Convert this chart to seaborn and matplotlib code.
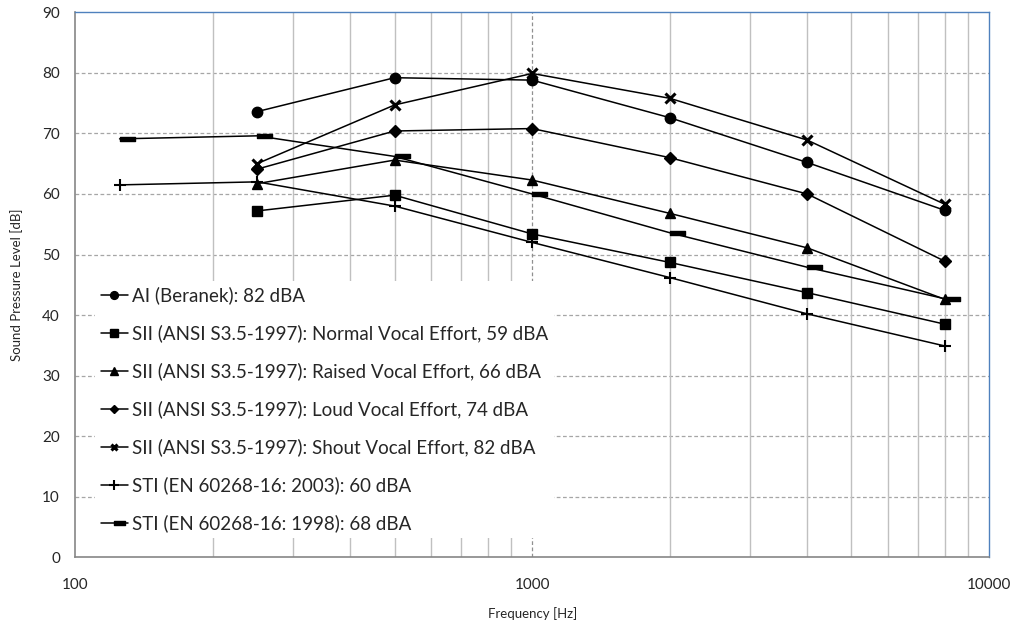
import numpy as np
import pandas as pd
import matplotlib
matplotlib.use('Agg')
import matplotlib.pyplot as plt
import seaborn as sns
from matplotlib.path import Path
from matplotlib.ticker import FixedLocator, NullFormatter

# frequencies [Hz]
freq_oct = [250, 500, 1000, 2000, 4000, 8000]
freq_sti = [125, 250, 500, 1000, 2000, 4000, 8000]

# sound pressure levels [dB]
ai_beranek = [73.6, 79.2, 78.8, 72.6, 65.2, 57.3]
sii_normal = [57.2, 59.8, 53.4, 48.7, 43.7, 38.5]
sii_raised = [61.7, 65.6, 62.3, 56.8, 51.1, 42.6]
sii_loud = [64.1, 70.4, 70.8, 66.0, 60.0, 48.9]
sii_shout = [65.0, 74.7, 79.9, 75.8, 68.9, 58.3]
sti_2003 = [61.5, 62.0, 58.0, 52.0, 46.2, 40.2, 34.9]
sti_1998 = [69.1, 69.6, 66.2, 60.0, 53.6, 47.9, 42.7]

labels = ['AI (Beranek): 82 dBA',
          'SII (ANSI S3.5-1997): Normal Vocal Effort, 59 dBA',
          'SII (ANSI S3.5-1997): Raised Vocal Effort, 66 dBA',
          'SII (ANSI S3.5-1997): Loud Vocal Effort, 74 dBA',
          'SII (ANSI S3.5-1997): Shout Vocal Effort, 82 dBA',
          'STI (EN 60268-16: 2003): 60 dBA',
          'STI (EN 60268-16: 1998): 68 dBA']

sns.set_style('white')
plt.rcParams['font.family'] = ['Lato', 'DejaVu Sans']

# excel style dash marker, drawn to the right of the point
dash = Path([(0, -0.14), (1, -0.14), (1, 0.14), (0, 0.14), (0, -0.14)],
            [Path.MOVETO, Path.LINETO, Path.LINETO, Path.LINETO, Path.CLOSEPOLY])

fig = plt.figure(figsize=(10.17, 6.24), dpi=100)
ax = fig.add_axes([75.3 / 1017, (624 - 557.3) / 624, 913.7 / 1017, 545 / 624])

series = [
    (freq_oct, ai_beranek, 'o', 7.5, 1),
    (freq_oct, sii_normal, 's', 7, 1),
    (freq_oct, sii_raised, '^', 7.5, 1),
    (freq_oct, sii_loud, 'D', 6, 1),
    (freq_oct, sii_shout, 'x', 6.5, 2.2),
    (freq_sti, sti_2003, '+', 9, 1.5),
    (freq_sti, sti_1998, dash, 21, 1),
]

for (f, v, m, ms, mew), lab in zip(series, labels):
    df = pd.DataFrame({'f': f, 'v': v})
    sns.lineplot(data=df, x='f', y='v', ax=ax, color='black', linewidth=1.1,
                 marker=m, markersize=ms, markeredgewidth=mew,
                 markerfacecolor='black', markeredgecolor='black', label=lab)

ax.set_xscale('log')
ax.set_xlim(100, 10000)
ax.set_ylim(0, 90)
ax.set_yticks(np.arange(0, 91, 10))
ax.set_xticks([100, 1000, 10000])
ax.set_xticklabels(['100', '1000', '10000'])
minors = [m * d for d in (100, 1000) for m in range(2, 10)]
ax.xaxis.set_minor_locator(FixedLocator(minors))
ax.xaxis.set_minor_formatter(NullFormatter())

ax.grid(False)
for y in range(10, 90, 10):
    ax.axhline(y, color='#a6a6a6', linestyle=(0, (3, 2)), linewidth=0.9, zorder=0)
for x in minors:
    ax.axvline(x, color='#c0c0c0', linestyle='-', linewidth=1.0, zorder=0)
ax.axvline(1000, color='#909090', linestyle=(0, (3, 2)), linewidth=0.9, zorder=0)

for s in ['left', 'bottom']:
    ax.spines[s].set_color('#868686')
    ax.spines[s].set_linewidth(1.2)
for s in ['top', 'right']:
    ax.spines[s].set_color('#4f81bd')
    ax.spines[s].set_linewidth(1.0)

ax.tick_params(axis='y', which='major', direction='out', length=5, width=1,
               color='#868686', labelsize=11, pad=6)
ax.tick_params(axis='x', which='major', direction='out', length=5, width=1,
               color='#868686', labelsize=11, pad=10)
ax.tick_params(axis='x', which='minor', length=0)

ax.set_xlabel('Frequency [Hz]', fontsize=9.5, labelpad=11)
ax.set_ylabel('Sound Pressure Level [dB]', fontsize=9.5, labelpad=14)

leg = ax.legend(loc='upper left', bbox_to_anchor=((95 - 75.3) / 913.7, (557.3 - 281) / 545),
                fontsize=13.5, frameon=True, framealpha=1, facecolor='white',
                edgecolor='none', fancybox=False, handlelength=1.45, handletextpad=0.25,
                labelspacing=1.07, borderpad=0.3, borderaxespad=0, markerscale=0.75)
leg.set_zorder(1)

fig.savefig('out.png', dpi=100)
